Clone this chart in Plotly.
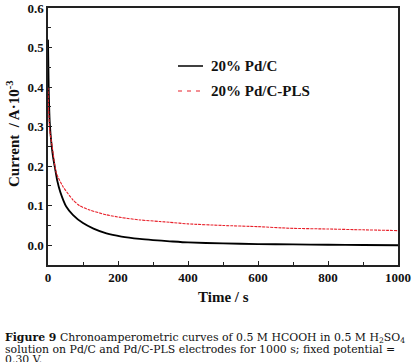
import plotly.graph_objects as go

# Data
t_pdc = [0, 2, 5, 10, 15, 20, 26, 35, 52, 71, 100, 130, 167, 210, 262, 300, 348, 400, 500, 600, 700, 800, 900, 1000]
i_pdc = [0.52, 0.40, 0.31, 0.255, 0.22, 0.195, 0.165, 0.135, 0.098, 0.077, 0.056, 0.042, 0.030, 0.022, 0.016, 0.013,
         0.010, 0.007, 0.0045, 0.003, 0.002, 0.0012, 0.0006, 0.0]
t_pls = [0, 2, 5, 12, 24, 43, 71, 90, 119, 167, 210, 262, 319, 348, 400, 500, 600, 690, 800, 900, 1000]
i_pls = [0.40, 0.34, 0.29, 0.25, 0.182, 0.148, 0.115, 0.10, 0.089, 0.077, 0.070, 0.064, 0.060, 0.058, 0.054, 0.050,
         0.047, 0.043, 0.041, 0.039, 0.037]
series_names = ["20% Pd/C", "20% Pd/C-PLS"]
x_ticks = [0, 200, 400, 600, 800, 1000]
y_ticks = [0.0, 0.1, 0.2, 0.3, 0.4, 0.5, 0.6]

SERIF = "Liberation Serif"
CAP = "DejaVu Serif"

L, R, T, B = 48, 398, 8, 265
W, H = R - L, B - T

def px(x):
    return (x - L) / W

def py(y):
    return (B - y) / H

fig = go.Figure()
fig.add_trace(go.Scatter(x=t_pdc, y=i_pdc, mode="lines", line=dict(color="black", width=1.8, shape="spline", smoothing=0.6),
                         name=series_names[0], showlegend=False))
fig.add_trace(go.Scatter(x=t_pls, y=i_pls, mode="lines", line=dict(color="#e8202a", width=1.1, dash="3px,1px", shape="spline", smoothing=0.6),
                         name=series_names[1], showlegend=False))

axis_common = dict(showline=True, linecolor="#222", linewidth=1.5, mirror=True, ticks="inside",
                   tickcolor="#222", ticklen=4, tickwidth=1, showgrid=False, zeroline=False, automargin=False,
                   tickfont=dict(family=SERIF, size=13, color="#111"))

fig.update_layout(
    width=416, height=362,
    margin=dict(l=L, r=416 - R, t=T, b=362 - B),
    paper_bgcolor="white", plot_bgcolor="white",
    xaxis=dict(range=[0, 1000], tickvals=x_ticks, ticktext=[f"<b>{v}</b>" for v in x_ticks],
               minor=dict(dtick=100, ticks="inside", ticklen=3, tickcolor="#222"),
               **axis_common),
    yaxis=dict(range=[-0.05, 0.6], tickvals=y_ticks, ticktext=[f"<b>{v:.1f}</b>" for v in y_ticks],
               minor=dict(dtick=0.05, ticks="inside", ticklen=3, tickcolor="#222"),
               **axis_common),
)

# axis titles
fig.add_annotation(text="<b>Time / s</b>", xref="paper", yref="paper", x=px(223), y=py(297),
                   xanchor="center", yanchor="middle", showarrow=False,
                   font=dict(family=SERIF, size=15, color="#111"))
fig.add_annotation(text="<b>Current  / A·10<sup>-3</sup></b>", xref="paper", yref="paper", x=px(13), y=py(134),
                   xanchor="center", yanchor="middle", showarrow=False, textangle=-90,
                   font=dict(family=SERIF, size=15, color="#111"))

# legend drawn manually
fig.add_shape(type="line", xref="paper", yref="paper", x0=px(178), x1=px(203),
              y0=py(66), y1=py(66), line=dict(color="black", width=1.5))
fig.add_shape(type="line", xref="paper", yref="paper", x0=px(178), x1=px(200),
              y0=py(91), y1=py(91), line=dict(color="#e8202a", width=1.2, dash="4px,5px"))
for name, yy in zip(series_names, [66, 91]):
    fig.add_annotation(text=f"<b>{name}</b>", xref="paper", yref="paper", x=px(209), y=py(yy),
                       xanchor="left", yanchor="middle", showarrow=False,
                       font=dict(family=SERIF, size=15, color="#111"))

# caption
cap = ["<b>Figure 9</b> Chronoamperometric curves of 0.5 M HCOOH in 0.5 M H<sub>2</sub>SO<sub>4</sub>",
       "solution on Pd/C and Pd/C-PLS electrodes for 1000 s; fixed potential =",
       "0.30 V."]
cap_y = [338, 349, 359]
for line, yy in zip(cap, cap_y):
    fig.add_annotation(text=line, xref="paper", yref="paper", x=px(3), y=py(yy),
                       xanchor="left", yanchor="middle", showarrow=False,
                       font=dict(family=CAP, size=10.9, color="#111"))

fig.write_html("out.html", config={"displayModeBar": False},
               post_script="document.body.style.margin='0';document.body.style.overflow='hidden';")
